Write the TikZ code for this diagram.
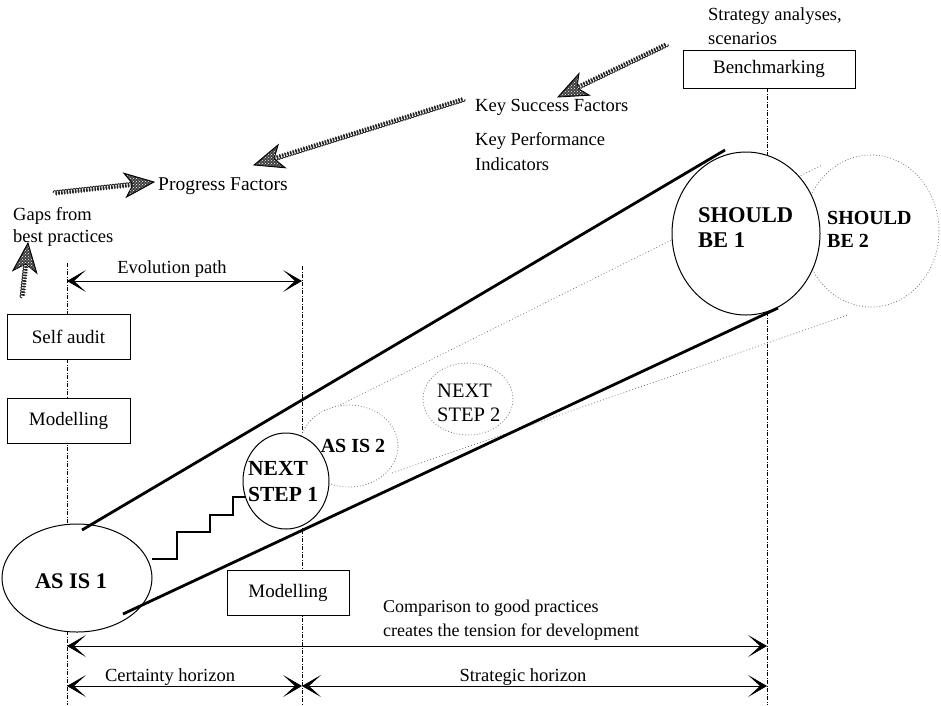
\documentclass[tikz,border=0pt]{standalone}
\usepackage{fontspec}
\setmainfont{Liberation Serif}
\usetikzlibrary{arrows.meta,shapes.geometric,decorations.pathmorphing,decorations.markings,patterns,calc}
\begin{document}
\begin{tikzpicture}[x=1pt,y=-1pt,
  txt/.style={font=\fontsize{18.5}{23}\selectfont, inner sep=0pt, align=left},
  boxn/.style={draw, fill=white, line width=0.8pt, inner sep=0pt, font=\fontsize{19}{23}\selectfont},
  ell/.style={ellipse, draw, fill=white, line width=1pt, inner sep=0pt},
  dell/.style={ellipse, draw=black!55, fill=white, dash pattern=on 0.9pt off 2pt, line width=0.7pt, inner sep=0pt},
  guide/.style={line width=0.6pt, dash pattern=on 4pt off 1.5pt on 1pt off 1.5pt},
  tube/.style={line width=2.8pt},
  dtube/.style={draw=black!55, line width=0.7pt, dash pattern=on 0.9pt off 2.2pt},
  stairs/.style={line width=2.6pt},
  dimtip/.tip={Stealth[length=19pt,width=22pt,inset=12pt]},
  dim/.style={line width=0.7pt},
  bt/.style={font=\fontsize{22.3}{26}\selectfont\bfseries, inner sep=0pt, align=left},
  shaft/.style={draw=black!85, line width=0.9pt, decorate, decoration={coil, aspect=0.5, amplitude=2.2pt, segment length=2.8pt}},
  hhead/.style={postaction={decorate, decoration={markings, mark=at position 1 with {
      \filldraw[fill=black!75, draw=black, line width=0.9pt] (0pt,0pt) -- (-29pt,12pt) -- (-21pt,0pt) -- (-29pt,-12pt) -- cycle;
      \fill[pattern=crosshatch dots, pattern color=white] (-2pt,0pt) -- (-27pt,10pt) -- (-21pt,0pt) -- (-27pt,-10pt) -- cycle;}}}}
]
\useasboundingbox (0,0) rectangle (941,705);

% guide lines
\coordinate (g1t) at (67,263);  \coordinate (g1b) at (67,705);
\coordinate (g2t) at (302,266); \coordinate (g2b) at (302,705);
\coordinate (g3t) at (767,88);  \coordinate (g3b) at (767,705);
\draw[guide] (g1t) -- (g1b);
\draw[guide] (g2t) -- (g2b);
\draw[guide] (g3t) -- (g3b);

% dotted tube
\coordinate (dt1a) at (340,405); \coordinate (dt1b) at (822,165);
\coordinate (dt2a) at (392,473); \coordinate (dt2b) at (848,315);
\draw[dtube] (dt1a) -- (dt1b);
\draw[dtube] (dt2a) -- (dt2b);

% dotted ellipses
\node[dell, minimum width=98pt, minimum height=82pt] (asis2) at (349,446) {};
\node[dell, minimum width=90pt, minimum height=72pt] (ns2) at (468,399) {};
\node[dell, minimum width=136pt, minimum height=152pt] (sb2) at (871,231) {};

% solid ellipses
\node[ell, minimum width=150pt, minimum height=108pt] (asis1) at (77,578) {};
\node[ell, minimum width=86pt, minimum height=96pt] (ns1) at (286,481) {};
\node[ell, minimum width=148pt, minimum height=163pt] (sb1) at (746,233.5) {};

% thick tube lines
\coordinate (tu1a) at (82,530);  \coordinate (tu1b) at (725,150);
\coordinate (tu2a) at (123,614); \coordinate (tu2b) at (778,308);
\draw[tube] (tu1a) -- (tu1b);
\draw[tube] (tu2a) -- (tu2b);

% stairs
\coordinate (st0) at (152,559);
\draw[stairs] (st0) -- (177,559) -- (177,532) -- (210,532) -- (210,515) -- (233,515) -- (233,497) -- (245.5,497);

% ellipse texts
\node[bt, anchor=base] (tasis1) at (71,588) {AS IS 1};
\node[bt, font=\fontsize{21.5}{26}\selectfont\bfseries, anchor=north west] (tns1) at (248,461.5) {NEXT\\STEP 1};
\node[bt, font=\fontsize{20}{24}\selectfont\bfseries, anchor=base] (tasis2) at (353,452) {AS IS 2};
\node[txt, font=\fontsize{20.5}{24}\selectfont, anchor=north west] (tns2) at (437,383.5) {NEXT\\STEP 2};
\node[bt, font=\fontsize{22.5}{25}\selectfont\bfseries, anchor=north west] (tsb1) at (698,207) {SHOULD\\BE 1};
\node[bt, font=\fontsize{20}{23}\selectfont\bfseries, anchor=north west] (tsb2) at (827,211.5) {SHOULD\\BE 2};

% boxes
\node[boxn, minimum width=123pt, minimum height=45pt] (self) at (68.5,336.5) {Self audit};
\node[boxn, minimum width=123pt, minimum height=45pt] (mod1) at (68.5,420.5) {Modelling};
\node[boxn, minimum width=122pt, minimum height=45pt] (mod2) at (288,592.5) {Modelling};
\node[boxn, minimum width=172pt, minimum height=38pt] (bench) at (769,69) {Benchmarking};

% labels
\node[txt, font=\fontsize{18.5}{24}\selectfont, anchor=north west] (strat) at (708,7) {Strategy analyses,\\scenarios};
\node[txt, anchor=base west] (ksf) at (475,111) {Key Success Factors};
\node[txt, font=\fontsize{18.5}{25}\selectfont, anchor=north west] (kpi) at (475,132) {Key Performance\\Indicators};
\node[txt, font=\fontsize{19.5}{23}\selectfont, anchor=base west] (prog) at (158,190) {Progress Factors};
\node[txt, font=\fontsize{18.5}{22}\selectfont, anchor=north west] (gaps) at (13,207) {Gaps from\\best practices};
\node[txt, anchor=base] (evol) at (172,273) {Evolution path};
\node[txt, font=\fontsize{18}{24}\selectfont, anchor=north west] (comp) at (383,600) {Comparison to good practices\\creates the tension for development};
\node[txt, anchor=base] (cert) at (170,681) {Certainty horizon};
\node[txt, anchor=base] (strh) at (523,681) {Strategic horizon};

% dimension arrows
\coordinate (ev1) at (67,281);  \coordinate (ev2) at (302,281);
\coordinate (cp1) at (67,646);  \coordinate (cp2) at (767,646);
\coordinate (ce1) at (67,686);  \coordinate (ce2) at (302,686);
\coordinate (sh2) at (767,686);
\draw[dim, dimtip-dimtip] (ev1) -- (ev2);
\draw[dim, dimtip-dimtip] (cp1) -- (cp2);
\draw[dim, dimtip-dimtip] (ce1) -- (ce2);
\draw[dim, dimtip-dimtip] (ce2) -- (sh2);

% hatched arrows
\coordinate (ha1s) at (22,298);  \coordinate (ha1t) at (28,243);
\coordinate (ha2s) at (53,193);  \coordinate (ha2t) at (154,182);
\coordinate (ha3s) at (465,99);  \coordinate (ha3t) at (254,165);
\coordinate (ha4s) at (668,44);  \coordinate (ha4t) at (558,97);
\foreach \s/\t in {ha1s/ha1t, ha2s/ha2t, ha3s/ha3t, ha4s/ha4t}{
  \draw[shaft] (\s) -- ($(\t)!16pt!(\s)$);
  \path[hhead] (\s) -- (\t);
}
\end{tikzpicture}
\end{document}
